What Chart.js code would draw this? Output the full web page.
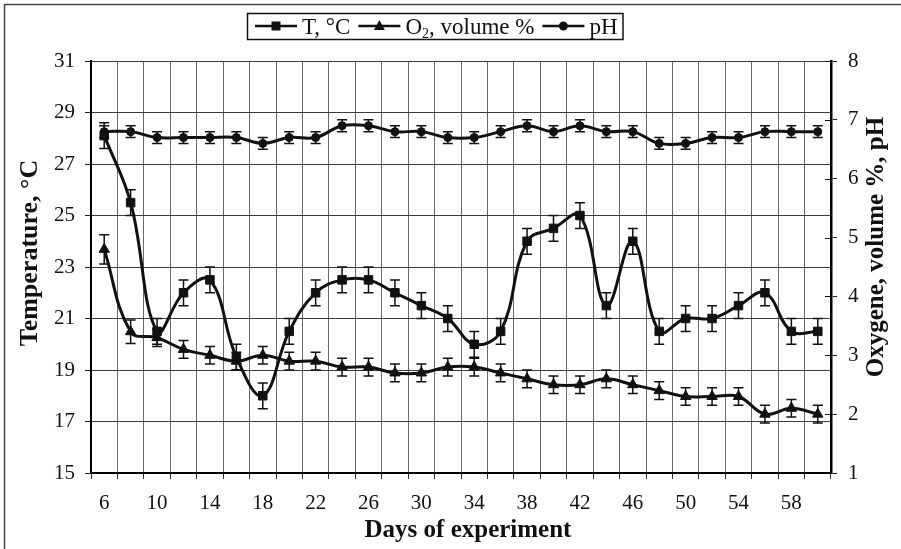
<!DOCTYPE html>
<html><head><meta charset="utf-8">
<script src="https://cdn.jsdelivr.net/npm/chart.js@4.4.1/dist/chart.umd.min.js"></script>
<style>html,body{margin:0;padding:0;background:#fff}#wrap{width:901px;height:549px;position:relative}canvas{display:block}</style>
</head><body><div id="wrap"><canvas id="c" width="901" height="549"></canvas></div>
<script>
const days = [6,8,10,12,14,16,18,20,22,24,26,28,30,32,34,36,38,40,42,44,46,48,50,52,54,56,58,60];
const temperature = [28.1,25.5,20.5,22,22.5,19.5,18,20.5,22,22.5,22.5,22,21.5,21,20,20.5,24,24.5,25,21.5,24,20.5,21,21,21.5,22,20.5,20.5];
const oxygen = [4.8,3.4,3.3,3.1,3.0,2.9,3.0,2.9,2.9,2.8,2.8,2.7,2.7,2.8,2.8,2.7,2.6,2.5,2.5,2.6,2.5,2.4,2.3,2.3,2.3,2.0,2.1,2.0];
const ph = [6.8,6.8,6.7,6.7,6.7,6.7,6.6,6.7,6.7,6.9,6.9,6.8,6.8,6.7,6.7,6.8,6.9,6.8,6.9,6.8,6.8,6.6,6.6,6.7,6.7,6.8,6.8,6.8];
const temperatureErr = [0.5,0.5,0.5,0.5,0.5,0.5,0.5,0.5,0.5,0.5,0.5,0.5,0.5,0.5,0.5,0.5,0.5,0.5,0.5,0.5,0.5,0.5,0.5,0.5,0.5,0.5,0.5,0.5];
const oxygenErr = [0.25,0.2,0.15,0.15,0.15,0.15,0.15,0.15,0.15,0.15,0.15,0.15,0.15,0.15,0.15,0.15,0.15,0.15,0.15,0.15,0.15,0.15,0.15,0.15,0.15,0.15,0.15,0.15];
const phErr = [0.1,0.1,0.1,0.1,0.1,0.1,0.1,0.1,0.1,0.1,0.1,0.1,0.1,0.1,0.1,0.1,0.1,0.1,0.1,0.1,0.1,0.1,0.1,0.1,0.1,0.1,0.1,0.1];
const xTickLabels = [6,10,14,18,22,26,30,34,38,42,46,50,54,58];
const leftTicks = {min:15,max:31,step:2};
const rightTicks = {min:1,max:8,step:1};
const xTitle = 'Days of experiment';
const leftTitle = 'Temperature, °C';
const rightTitle = 'Oxygene, volume %, pH';
const errSets = [temperatureErr, oxygenErr, phErr];

const SERIF = '"Liberation Serif", "DejaVu Serif", serif';
const INK = '#111';

const errorBars = {
  id:'errorBars',
  beforeDatasetsDraw(chart){
    const ctx = chart.ctx, xs = chart.scales.x;
    chart.data.datasets.forEach((ds,di)=>{
      const ys = chart.scales[ds.yAxisID], errs = errSets[di];
      ctx.save(); ctx.strokeStyle = INK; ctx.lineWidth = 1.5;
      ds.data.forEach((v,i)=>{
        const px = xs.getPixelForValue(i);
        const t = ys.getPixelForValue(v+errs[i]), b = ys.getPixelForValue(v-errs[i]);
        ctx.beginPath();
        ctx.moveTo(px,t); ctx.lineTo(px,b);
        ctx.moveTo(px-5,t); ctx.lineTo(px+5,t);
        ctx.moveTo(px-5,b); ctx.lineTo(px+5,b);
        ctx.stroke();
      });
      ctx.restore();
    });
  }
};

function marker(ctx,type,x,y){
  ctx.fillStyle = INK;
  ctx.beginPath();
  if(type==='rect'){ ctx.rect(x-4.5,y-4.5,9,9); }
  else if(type==='triangle'){ ctx.moveTo(x,y-6); ctx.lineTo(x+5.5,y+4); ctx.lineTo(x-5.5,y+4); ctx.closePath(); }
  else { ctx.arc(x,y,4.5,0,Math.PI*2); }
  ctx.fill();
}

const decor = {
  id:'decor',
  afterDraw(chart){
    const ctx = chart.ctx, a = chart.chartArea;
    ctx.save();
    // frame
    ctx.strokeStyle = '#444'; ctx.lineWidth = 1.5;
    ctx.beginPath(); ctx.moveTo(4.5,549); ctx.lineTo(4.5,4.5); ctx.lineTo(901,4.5); ctx.stroke();
    // inner ticks on right axis
    const y1 = chart.scales.y1;
    ctx.strokeStyle = INK; ctx.lineWidth = 1;
    y1.ticks.forEach(t=>{ const py = Math.round(y1.getPixelForValue(t.value))+0.5; ctx.beginPath(); ctx.moveTo(a.right-6,py); ctx.lineTo(a.right,py); ctx.stroke(); });
    // titles
    ctx.fillStyle = INK;
    ctx.font = 'bold 25px '+SERIF; ctx.textAlign='center'; ctx.textBaseline='alphabetic';
    ctx.fillText(xTitle, 468, 537);
    ctx.font = 'bold 26px '+SERIF; ctx.textBaseline='middle';
    ctx.save(); ctx.translate(30,253); ctx.rotate(-Math.PI/2); ctx.fillText(leftTitle,0,0); ctx.restore();
    ctx.font = 'bold 25px '+SERIF;
    ctx.save(); ctx.translate(877,247); ctx.rotate(-Math.PI/2); ctx.fillText(rightTitle,0,0); ctx.restore();
    // legend
    const items = [
      {type:'rect', parts:[['T, °C',0]]},
      {type:'triangle', parts:[['O',0],['2',1],[', volume %',0]]},
      {type:'circle', parts:[['pH',0]]}
    ];
    const big = '23px '+SERIF, small = '14px '+SERIF;
    const lineLen = 42, gapLT = 5, gapItem = 8, padL = 8, padR = 5;
    let total = padL + padR;
    items.forEach((it,k)=>{
      let w = 0; it.parts.forEach(p=>{ ctx.font = p[1]?small:big; w += ctx.measureText(p[0]).width; });
      it.w = w; total += lineLen + gapLT + w + (k<items.length-1?gapItem:0);
    });
    const bx = Math.round(435 - total/2), by = 13, bh = 26;
    ctx.strokeStyle = INK; ctx.lineWidth = 1.5;
    ctx.strokeRect(bx+0.5, by+0.5, total, bh);
    let x = bx + padL; const my = by + 13, base = by + 21;
    ctx.textAlign='left'; ctx.textBaseline='alphabetic';
    items.forEach(it=>{
      ctx.lineWidth = 2.5; ctx.strokeStyle = INK;
      ctx.beginPath(); ctx.moveTo(x,my); ctx.lineTo(x+lineLen,my); ctx.stroke();
      marker(ctx,it.type,x+lineLen/2,my);
      x += lineLen + gapLT;
      it.parts.forEach(p=>{
        ctx.font = p[1]?small:big; ctx.fillStyle = INK;
        ctx.fillText(p[0], x, p[1]? base+4 : base);
        x += ctx.measureText(p[0]).width;
      });
      x += gapItem;
    });
    ctx.restore();
  }
};

const tickFont = {family:SERIF, size:21};
new Chart(document.getElementById('c'), {
  type:'line',
  data:{
    labels: days.map(String),
    datasets:[
      {label:'T, °C', data:temperature, yAxisID:'y', borderColor:INK, backgroundColor:INK, borderWidth:3, tension:0.4,
       pointStyle:'rect', pointRadius:6, pointBorderWidth:1, pointBackgroundColor:INK, pointBorderColor:INK},
      {label:'O2, volume %', data:oxygen, yAxisID:'y1', borderColor:INK, backgroundColor:INK, borderWidth:3, tension:0.4,
       pointStyle:'triangle', pointRadius:6, pointBorderWidth:1, pointBackgroundColor:INK, pointBorderColor:INK},
      {label:'pH', data:ph, yAxisID:'y1', borderColor:INK, backgroundColor:INK, borderWidth:3, tension:0.4,
       pointStyle:'circle', pointRadius:4, pointBorderWidth:1, pointBackgroundColor:INK, pointBorderColor:INK}
    ]
  },
  options:{
    responsive:false, animation:false, devicePixelRatio:1,
    layout:{padding:{top:61,left:0,right:0,bottom:0}},
    plugins:{legend:{display:false}, tooltip:{enabled:false}, title:{display:false}},
    scales:{
      x:{type:'category', offset:true,
         grid:{offset:true, color:'#6a6a6a', lineWidth:1, tickLength:6, tickColor:'#333'},
         border:{color:'#000', width:2},
         ticks:{autoSkip:false, maxRotation:0, minRotation:0, padding:12, color:INK, font:tickFont,
                callback:(v,i)=> xTickLabels.includes(days[i]) ? String(days[i]) : ''},
         afterFit:s=>{ s.height = 76; }},
      y:{position:'left', min:leftTicks.min, max:leftTicks.max,
         grid:{color:'#3c3c3c', lineWidth:1, tickLength:6, tickColor:'#222'},
         border:{color:'#000', width:2},
         ticks:{stepSize:leftTicks.step, padding:10, color:INK, font:tickFont},
         afterFit:s=>{ s.width = 91; }},
      y1:{position:'right', min:rightTicks.min, max:rightTicks.max,
         grid:{drawOnChartArea:false, tickLength:6, tickColor:'#222'},
         border:{color:'#000', width:2.5},
         ticks:{stepSize:rightTicks.step, padding:11, color:INK, font:tickFont},
         afterFit:s=>{ s.width = 70; }}
    }
  },
  plugins:[errorBars, decor]
});
</script></body></html>
